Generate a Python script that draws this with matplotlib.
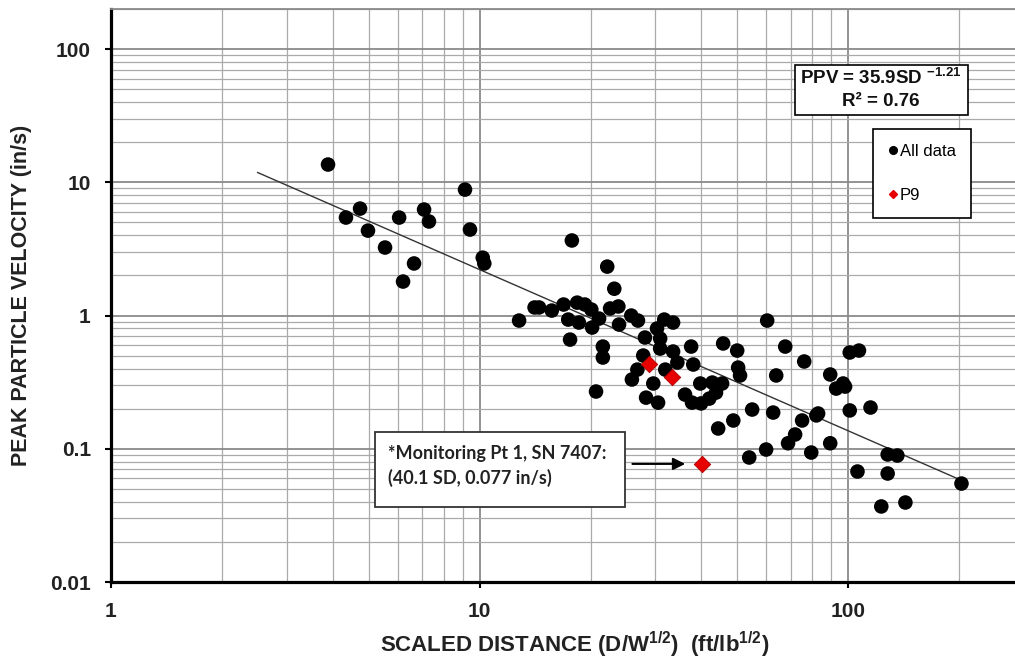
import matplotlib
matplotlib.use("Agg")
import matplotlib.pyplot as plt
import numpy as np
from matplotlib.lines import Line2D
from matplotlib.patches import Rectangle

plt.rcParams["font.family"] = ["Liberation Sans", "DejaVu Sans"]
plt.rcParams["mathtext.fontset"] = "custom"
plt.rcParams["mathtext.rm"] = "Liberation Sans"
plt.rcParams["mathtext.bf"] = "Liberation Sans:bold"

# scaled distance (ft/lb^1/2) and PPV (in/s), all data
sd_all = [
    3.88, 4.34, 4.74, 4.98, 5.54, 6.05, 6.20, 6.64, 7.07, 7.29, 9.13, 9.42, 10.2, 10.3,
    12.8, 14.1, 14.5, 15.7, 16.9, 18.4, 19.3, 20.1, 17.4, 18.6, 21.1, 20.2, 17.6, 17.8,
    22.2, 23.2, 22.6, 23.8, 23.9, 25.8, 26.9, 21.6, 21.6, 20.7, 28.1, 30.3, 31.7, 30.9,
    30.9, 27.8, 26.8, 25.9, 28.3, 30.5, 29.6, 31.9, 33.5, 33.5, 37.5, 45.8, 34.4, 38.0,
    39.7, 42.8, 45.5, 36.1, 37.7, 39.9, 42.0, 43.8, 44.4, 48.8, 53.9, 54.9, 59.9, 60.3,
    50.0, 50.3, 50.9, 63.8, 67.5, 76.0, 62.6, 68.7, 71.8, 75.0, 82.9, 82.0, 79.4, 89.4,
    92.8, 96.9, 98.1, 101, 107, 101, 115, 89.4, 106, 128, 136, 128, 123, 143, 203,
]
ppv_all = [
    13.6, 5.44, 6.35, 4.34, 3.24, 5.44, 1.80, 2.46, 6.25, 5.08, 8.82, 4.42, 2.72, 2.46,
    0.917, 1.15, 1.15, 1.09, 1.21, 1.25, 1.21, 1.11, 0.933, 0.886, 0.949, 0.813, 0.660, 3.66,
    2.33, 1.59, 1.13, 1.17, 0.856, 1.00, 0.917, 0.585, 0.484, 0.269, 0.684, 0.799, 0.933, 0.672,
    0.565, 0.501, 0.393, 0.331, 0.242, 0.222, 0.309, 0.393, 0.886, 0.537, 0.585, 0.617, 0.444, 0.429,
    0.309, 0.314, 0.309, 0.255, 0.222, 0.219, 0.238, 0.264, 0.142, 0.163, 0.086, 0.197, 0.0987, 0.917,
    0.546, 0.407, 0.355, 0.355, 0.585, 0.452, 0.187, 0.110, 0.128, 0.163, 0.184, 0.178, 0.0937, 0.361,
    0.283, 0.309, 0.293, 0.528, 0.546, 0.194, 0.204, 0.110, 0.0675, 0.0906, 0.0890, 0.0652, 0.0369, 0.0395, 0.0548,
]

# P9 monitoring points
sd_p9 = [28.8, 33.3, 40.1]
ppv_p9 = [0.436, 0.348, 0.077]

# fitted trend PPV = 35.9 SD^-1.21
fit_a = 35.9
fit_b = -1.21
fit_range = (2.5, 200)

x_ticks = [1, 10, 100]
y_ticks = [0.01, 0.1, 1, 10, 100]

W, H = 1015, 659
fig = plt.figure(figsize=(W / 100, H / 100), dpi=100)


def fx(px):
    return px / W


def fy(py):
    return 1 - py / H


ax = fig.add_axes([fx(111), fy(582), (1024 - 111) / W, (582 - 9) / H])
ax.set_xscale("log")
ax.set_yscale("log")
ax.set_xlim(1, 300)
ax.set_ylim(0.01, 200)

ax.grid(True, which="major", color="#8a8a8a", lw=1.3)
ax.grid(True, which="minor", color="#aaaaaa", lw=0.9)
ax.set_axisbelow(True)

ax.set_xticks(x_ticks)
ax.set_xticklabels([f"{v:g}" for v in x_ticks])
ax.set_yticks(y_ticks)
ax.set_yticklabels([f"{v:g}" for v in y_ticks])
ax.tick_params(which="minor", length=0)
ax.tick_params(which="major", length=4.5, width=1.5, pad=10, labelsize=15)
for lab in ax.get_xticklabels() + ax.get_yticklabels():
    lab.set_fontweight("bold")
    lab.set_color("#222222")

for side in ["left", "bottom"]:
    ax.spines[side].set_linewidth(2.3)
    ax.spines[side].set_color("black")
ax.spines["top"].set_linewidth(1.3)
ax.spines["top"].set_color("#8a8a8a")

fit_x = np.logspace(np.log10(fit_range[0]), np.log10(fit_range[1]), 50)
ax.plot(fit_x, fit_a * fit_x ** fit_b, color="#333333", lw=1.0, zorder=2)

ax.scatter(sd_all, ppv_all, s=110, color="black", edgecolors="none", zorder=3)
ax.scatter(sd_p9, ppv_p9, s=70, marker="D", color="#e60000", edgecolors="#b00000",
           linewidths=0.6, zorder=4)

fig.text(fx(22), fy(295), "PEAK PARTICLE VELOCITY (in/s)", rotation=90,
         ha="center", va="center", fontsize=15.5, fontweight="bold", color="#222222")
fig.text(fx(575), fy(645), "SCALED DISTANCE (D/W$^{\\mathbf{1/2}}$)  (ft/lb$^{\\mathbf{1/2}}$)",
         ha="center", va="center", fontsize=16, fontweight="bold", color="#222222")

# equation box
fig.patches.append(Rectangle((fx(795), fy(115)), (968 - 795) / W, (115 - 65) / H,
                             transform=fig.transFigure, fc="white", ec="black", lw=1.2,
                             zorder=5))
fig.text(fx(881), fy(78), "PPV = 35.9SD $^{\\mathbf{-1.21}}$", ha="center", va="center",
         fontsize=13.5, fontweight="bold", color="#111111", zorder=6)
fig.text(fx(881), fy(101), "R\u00b2 = 0.76", ha="center", va="center",
         fontsize=13.5, fontweight="bold", color="#111111", zorder=6)

# legend
handles = [
    Line2D([], [], ls="none", marker="o", ms=5.5, color="black", label="All data"),
    Line2D([], [], ls="none", marker="D", ms=4, color="#e60000", label="P9"),
]
leg = ax.legend(handles=handles, loc="upper left", bbox_to_anchor=(fx(873), fy(129)),
                bbox_transform=fig.transFigure, fontsize=12, frameon=True, fancybox=False,
                edgecolor="black", framealpha=1, handlelength=0.6, handletextpad=0.1,
                labelspacing=1.75, borderpad=0.9, borderaxespad=0)
leg.get_frame().set_linewidth(1.2)

# monitoring point note
fig.patches.append(Rectangle((fx(375), fy(507)), (625 - 375) / W, (507 - 432) / H,
                             transform=fig.transFigure, fc="white", ec="#333333", lw=1.3,
                             zorder=5))
fig.text(fx(388), fy(466), "*Monitoring Pt 1, SN 7407:\n(40.1 SD, 0.077 in/s)",
         ha="left", va="center", fontsize=13, fontweight="bold", family="Lato",
         color="#222222", linespacing=1.5, zorder=6)
ax.annotate("", xy=(sd_p9[2], ppv_p9[2]), xytext=(-50, 0), textcoords="offset points",
            arrowprops=dict(arrowstyle="-|>", color="black", lw=1.5, shrinkA=0, shrinkB=12,
                            mutation_scale=18))

fig.savefig("out.png", dpi=100)
